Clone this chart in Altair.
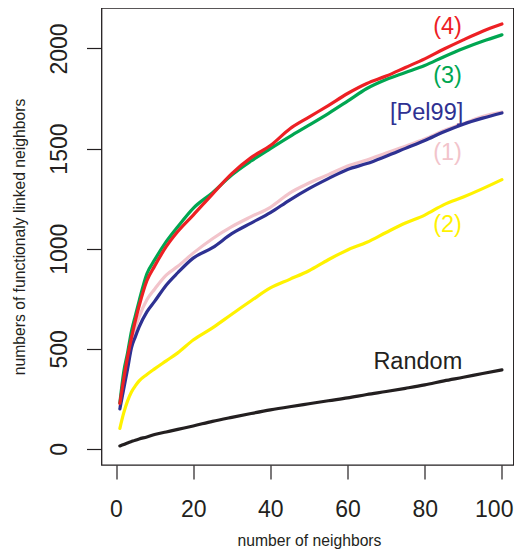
import altair as alt
import pandas as pd

# ---- data ----
xs = [1, 2, 3, 4, 5, 6, 8, 10, 13, 16, 20, 25, 30, 35, 40, 45, 50, 55, 60, 65, 70, 75, 80, 85, 90, 95, 100]

pink_1 = [215, 320, 420, 520, 605, 660, 745, 798, 868, 912, 978, 1050, 1110, 1160, 1207, 1278, 1328, 1370, 1413, 1443, 1478, 1512, 1548, 1590, 1625, 1660, 1682]
blue_pel99 = [200, 300, 400, 505, 560, 610, 685, 737, 818, 880, 953, 1005, 1075, 1128, 1180, 1243, 1300, 1350, 1396, 1425, 1462, 1501, 1540, 1584, 1622, 1652, 1678]
green_3 = [230, 385, 480, 588, 665, 740, 875, 944, 1035, 1110, 1202, 1280, 1368, 1438, 1500, 1560, 1617, 1675, 1737, 1800, 1845, 1880, 1915, 1959, 2000, 2036, 2068]
red_4 = [228, 350, 460, 555, 640, 715, 840, 913, 1010, 1086, 1168, 1273, 1375, 1455, 1515, 1598, 1657, 1715, 1775, 1825, 1862, 1905, 1948, 1997, 2043, 2086, 2122]
yellow_2 = [103, 180, 240, 285, 315, 340, 372, 400, 440, 480, 544, 605, 673, 740, 804, 847, 890, 945, 994, 1032, 1081, 1128, 1168, 1220, 1258, 1300, 1345]
random_ = [15, 22, 30, 37, 44, 50, 60, 72, 85, 98, 115, 138, 158, 177, 195, 211, 226, 241, 255, 272, 287, 303, 320, 340, 358, 377, 395]

series_names = ["(1)", "[Pel99]", "(3)", "(4)", "(2)", "Random"]
series_values = [pink_1, blue_pel99, green_3, red_4, yellow_2, random_]
series_colors = ["#F2C4CB", "#2E3192", "#00A651", "#ED2024", "#FFF200", "#231F20"]

label_texts = ["(4)", "(3)", "[Pel99]", "(1)", "(2)", "Random"]
label_x = [85.9, 85.9, 80.5, 85.9, 85.9, 78.2]
label_y = [2108, 1862, 1676, 1476, 1118, 436]
label_colors = ["#ED2024", "#00A651", "#2E3192", "#F2C4CB", "#FFF200", "#231F20"]

x_ticks = [0, 20, 40, 60, 80, 100]
y_ticks = [0, 500, 1000, 1500, 2000]

FONT = "Liberation Sans"
INK = "#231F20"
W, H = 412, 457

x_scale = alt.Scale(domain=[-3.76, 103.0], nice=False, zero=False)
y_scale = alt.Scale(domain=[-80, 2202], nice=False, zero=False)

x_axis = alt.Axis(
    values=x_ticks, format="d", title="number of neighbors", grid=False, domain=False,
    tickSize=14, tickWidth=1.2, tickColor=INK,
    labelFontSize=23, labelFont=FONT, labelColor=INK,
    labelBaseline="alphabetic", labelPadding=37,
    labelFlush=12, labelFlushOffset=11,
    titleFont=FONT, titleFontSize=15.7, titleFontWeight="normal", titleColor=INK,
    titleX=309 - 101.5, titleY=80, titleBaseline="alphabetic", titleAlign="center",
)
y_axis = alt.Axis(
    values=y_ticks, format="d", title="numbers of functionaly linked neighbors", grid=False, domain=False,
    tickSize=15, tickWidth=1.2, tickColor=INK,
    labelFontSize=23, labelFont=FONT, labelColor=INK,
    labelAngle=270, labelAlign="center", labelBaseline="alphabetic", labelPadding=20,
    labelFlush=False,
    titleFont=FONT, titleFontSize=15.7, titleFontWeight="normal", titleColor=INK,
    titleAngle=270, titleX=-77.5, titleY=228.5, titleBaseline="alphabetic", titleAlign="center",
)

layers = []
for name, vals, col in zip(series_names, series_values, series_colors):
    df = pd.DataFrame({"x": xs, "y": vals, "series": name})
    layers.append(
        alt.Chart(df).mark_line(color=col, strokeWidth=3.2, strokeJoin="round", strokeCap="round",
                                interpolate="monotone").encode(
            x=alt.X("x:Q", scale=x_scale, axis=x_axis),
            y=alt.Y("y:Q", scale=y_scale, axis=y_axis),
        )
    )

labels_df = pd.DataFrame({"text": label_texts, "x": label_x, "y": label_y, "color": label_colors})
labels = alt.Chart(labels_df).mark_text(font=FONT, fontSize=23.5, align="center", baseline="middle").encode(
    x=alt.X("x:Q", scale=x_scale, axis=x_axis),
    y=alt.Y("y:Q", scale=y_scale, axis=y_axis),
    text="text:N",
    color=alt.Color("color:N", scale=None, legend=None),
)

chart = alt.layer(*layers, labels).properties(
    width=W, height=H,
    autosize=alt.AutoSizeParams(type="none"),
    padding={"left": 93.5, "top": 0, "right": 0.5, "bottom": 84},
).configure(
    background="white",
    view=alt.ViewConfig(stroke=INK, strokeWidth=1.3),
)

chart.save("out.html", embed_options={"renderer": "svg", "actions": False})
